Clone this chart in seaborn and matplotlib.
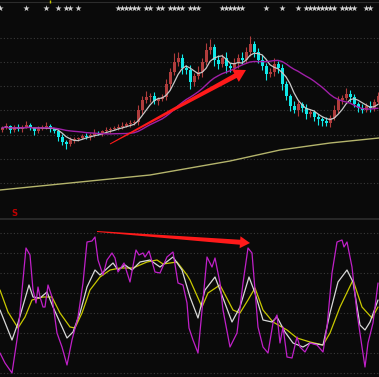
import numpy as np
import pandas as pd
import seaborn as sns
import matplotlib.pyplot as plt
from matplotlib.patches import Polygon

# daily closes (price units), one value per candle
closes = [17.2, 17.4, 17.0, 17.3, 17.1, 17.3, 17.5, 17.2, 16.9, 17.1,
          17.3, 17.4, 17.1, 16.9, 16.3, 15.8, 15.6, 16.0, 16.1, 16.2,
          16.4, 16.3, 16.5, 16.7, 16.6, 16.9, 17.0, 17.1, 17.2, 17.3,
          17.4, 17.6, 17.7, 17.8, 19.0, 20.0, 20.3, 20.4, 19.9, 20.1,
          20.3, 21.6, 22.8, 23.8, 24.2, 23.2, 23.0, 21.8, 22.4, 22.8,
          23.8, 25.0, 25.3, 24.0, 23.6, 24.2, 23.4, 23.2, 23.7, 24.2,
          24.0, 24.8, 25.6, 24.8, 24.0, 23.4, 22.6, 22.8, 23.6, 23.2,
          21.6, 20.4, 19.4, 19.0, 19.6, 19.2, 18.6, 18.8, 18.3, 18.1,
          17.9, 17.7, 18.2, 19.0, 20.0, 20.2, 20.6, 20.3, 19.6, 19.2,
          19.0, 19.4, 19.2, 19.8, 20.4]
opens = [17.0] + closes[:-1]
up_wick = [0.2, 0.3, 0.1, 0.2, 0.3, 0.2, 0.4, 0.2, 0.1, 0.3,
           0.2, 0.4, 0.2, 0.1, 0.2, 0.3, 0.2, 0.3, 0.2, 0.1,
           0.2, 0.3, 0.2, 0.4, 0.2, 0.1, 0.3, 0.2, 0.2, 0.3,
           0.4, 0.2, 0.3, 0.2, 0.5, 0.4, 0.6, 0.3, 0.4, 0.2,
           0.3, 0.5, 0.4, 0.9, 0.6, 0.4, 0.3, 0.5, 0.3, 0.6,
           0.4, 0.7, 0.8, 0.3, 0.5, 0.4, 0.6, 0.3, 0.5, 0.4,
           0.6, 0.5, 0.8, 0.3, 0.4, 0.5, 0.3, 0.4, 0.6, 0.3,
           0.4, 0.3, 0.2, 0.5, 0.3, 0.2, 0.4, 0.3, 0.2, 0.3,
           0.2, 0.4, 0.3, 0.5, 0.4, 0.3, 0.6, 0.4, 0.3, 0.2,
           0.4, 0.3, 0.5, 0.3, 0.4]
low_wick = [0.2, 0.1, 0.3, 0.2, 0.2, 0.3, 0.1, 0.2, 0.4, 0.2,
            0.1, 0.2, 0.3, 0.2, 0.4, 0.3, 0.5, 0.2, 0.3, 0.2,
            0.1, 0.2, 0.3, 0.2, 0.1, 0.2, 0.2, 0.3, 0.1, 0.2,
            0.2, 0.1, 0.3, 0.2, 0.3, 0.4, 0.3, 0.5, 0.3, 0.4,
            0.2, 0.3, 0.5, 0.3, 0.4, 0.6, 0.4, 0.7, 0.4, 0.3,
            0.5, 0.3, 0.4, 0.6, 0.5, 0.3, 0.7, 0.4, 0.3, 0.5,
            0.4, 0.3, 0.4, 0.5, 0.3, 0.4, 0.6, 0.3, 0.4, 0.5,
            0.6, 0.4, 0.5, 0.3, 0.6, 0.4, 0.5, 0.3, 0.4, 0.6,
            0.5, 0.3, 0.4, 0.2, 0.3, 0.4, 0.2, 0.5, 0.3, 0.4,
            0.3, 0.2, 0.4, 0.3, 0.2]

# long moving average
long_ma_days = [-0.5, 12, 24.5, 37, 47, 57, 69.5, 82, 94.25]
long_ma = [11.0, 11.5, 12.0, 12.5, 13.2, 13.9, 15.0, 15.7, 16.2]

# signal markers along the top
star_days = [-0.5, 6, 11, 14, 16, 17, 19, 29, 30, 31, 32, 33, 34, 36, 37, 39, 40,
             42, 43, 44, 45, 47, 48, 49, 55, 56, 57, 58, 59, 60, 66, 70, 74, 76,
             77, 78, 79, 80, 81, 82, 83, 85, 86, 87, 88, 91, 92]

# KDJ indicator
j_days = [-0.5, 0.75, 2.5, 4, 6, 7, 7.75, 8.5, 9, 9.5, 10.25, 10.75, 11.5, 12.5,
          13.75, 15, 16.25, 17.5, 19, 20.25, 21.25, 22.5, 23.25, 24, 25.25, 26.25,
          27.5, 28.25, 29, 30.5, 32, 33.5, 34.25, 35.25, 35.75, 36.75, 38.25, 39.5,
          41.25, 42.75, 44, 45.25, 46.25, 46.75, 47.75, 49, 50.25, 51.25, 52.5,
          53.25, 54.5, 55.25, 57, 58.75, 60.25, 61.5, 62.5, 63.25, 64, 65.25, 66.5,
          67.75, 68.75, 69.5, 70.25, 71.25, 72.5, 73.75, 74.5, 75.75, 77, 78.75,
          80.25, 81.25, 82.5, 83.75, 85, 85.5, 86.25, 87.5, 88.75, 90, 90.75, 91.5,
          92.75, 94]
j_vals = [0, -10, -20, 20, 105, 98, 63, 50, 66, 56, 46, 46, 68, 56,
          20, 6, -12, 13, 36, 70, 111, 112, 116, 93, 78, 93,
          100, 95, 81, 90, 71, 103, 98, 100, 96, 102, 81, 80,
          96, 101, 70, 68, 50, 25, 13, 0, 53, 96, 86,
          95, 70, 43, 6, 20, 70, 105, 100, 63, 26, 6, 0,
          30, 38, 10, 26, -4, -5, 16, 6, 1, 10, 8,
          1, 26, 80, 111, 113, 106, 111, 86, 40, 6, -14, 10,
          30, 70]
k_days = [-0.5, 2.5, 4, 6.75, 7.75, 9.5, 11.25, 12.75, 16.25, 17.75, 19.5, 21.25,
          23.25, 24.5, 27.75, 29, 30.75, 32.5, 34.5, 37, 39.5, 42.75, 45, 47, 49,
          50.75, 53.25, 54.5, 57.5, 59.5, 61.75, 63.25, 65.25, 67.5, 68.75, 70.75,
          72.75, 75.25, 77, 80.25, 82, 84, 86.25, 87.75, 89.5, 90.75, 92, 94]
k_vals = [43, 13, 30, 68, 56, 55, 61, 46, 15, 21, 40, 66,
          83, 78, 90, 83, 88, 83, 91, 93, 86, 96, 83, 56, 35,
          63, 76, 63, 31, 46, 76, 60, 33, 31, 36, 21,
          10, 6, 10, 8, 40, 71, 83, 71, 28, 23, 31, 53]
d_days = [-0.5, 1.5, 4, 5.75, 7.5, 10.25, 12.5, 14.5, 17, 18.25, 20, 22, 24.5, 27,
          29.5, 32.75, 36.25, 38.75, 40.25, 43.75, 46.25, 47, 50, 51.5, 54.5,
          57.75, 59.5, 61.5, 63.25, 65.25, 67.75, 71.25, 73.75, 77, 80.25, 82,
          84.5, 87.75, 90, 92.5, 94]
d_vals = [63, 41, 25, 36, 53, 56, 56, 40, 26, 25, 40, 63, 76, 83,
          85, 85, 91, 93, 89, 91, 78, 73, 46, 60, 68,
          43, 40, 53, 65, 43, 31, 23, 15, 11, 8, 20,
          46, 73, 46, 35, 46]

top_grid = [26.2, 23.8, 21.4, 19.0, 16.5, 14.1, 11.7]
kdj_grid = [120, 100, 80, 60, 40, 20, 0, -20]

BG = "#0a0a0a"
W, H = 379, 377

sns.set_theme(style="dark", rc={"axes.facecolor": BG, "figure.facecolor": BG})

fig = plt.figure(figsize=(W / 100, H / 100), dpi=100)
ax = fig.add_axes([0, 1 - 212 / H, 1, 212 / H])
ax2 = fig.add_axes([0, 0, 1, 159 / H])

df = pd.DataFrame({"open": opens, "close": closes, "up": up_wick, "low": low_wick})
df["day"] = np.arange(len(df))
df["hi"] = df[["open", "close"]].max(axis=1) + df["up"]
df["lo"] = df[["open", "close"]].min(axis=1) - df["low"]
df["color"] = np.where(df["close"] >= df["open"], "#b03c3c", "#10e8e8")
df["ma5"] = df["close"].rolling(5, min_periods=1).mean()
df["ma20"] = df["close"].rolling(20, min_periods=1).mean()

for a in (ax, ax2):
    a.set_xlim(-0.5, 94.25)
    a.set_xticks([])
    a.set_yticks([])
    for s in a.spines.values():
        s.set_visible(False)

ax.set_ylim(8.8, 30)
for g in top_grid:
    ax.axhline(g, color="#3a3a3a", lw=0.8, ls=(0, (1, 2)), zorder=0)
ax.axhline(29.85, color="#2c2c2c", lw=0.8, zorder=0)
ax.vlines(12, 29.7, 30, color="#c8c800", lw=1)

# candles
ax.vlines(df["day"], df["lo"], df["hi"], colors=df["color"], lw=0.8, zorder=2)
heights = (df["close"] - df["open"]).abs().clip(lower=0.08)
ax.bar(df["day"], heights, bottom=df[["open", "close"]].min(axis=1),
       width=0.75, color=df["color"], linewidth=0, zorder=3)

sns.lineplot(x=df["day"], y=df["ma5"], ax=ax, color="#c8c8c8", lw=0.9, zorder=4)
sns.lineplot(x=df["day"], y=df["ma20"], ax=ax, color="#a020a8", lw=1.0, zorder=4)
sns.lineplot(x=long_ma_days, y=long_ma, ax=ax, color="#b4b46c", lw=1.0, zorder=4)
ax.scatter(star_days, [29.2] * len(star_days), marker="*", s=22,
           color="#d0d0d0", linewidths=0, zorder=5)
ax.set_xlabel("")
ax.set_ylabel("")

# KDJ panel
ax2.set_ylim(-24, 135)
for g in kdj_grid:
    ax2.axhline(g, color="#3a3a3a", lw=0.8, ls=(0, (1, 2)), zorder=0)
ax2.axhline(134, color="#2e2e2e", lw=1.2, zorder=0)
sns.lineplot(x=d_days, y=d_vals, ax=ax2, color="#c8c800", lw=0.9, zorder=3)
sns.lineplot(x=k_days, y=k_vals, ax=ax2, color="#d8d8d8", lw=0.9, zorder=4)
sns.lineplot(x=j_days, y=j_vals, ax=ax2, color="#c020c8", lw=0.9, zorder=5)
ax2.set_xlabel("")
ax2.set_ylabel("")

fig.text(14 / W, 1 - 213 / H, "S", color="#c00000", fontsize=6,
         ha="center", va="center", fontweight="bold")


def arrow(tail, tip, w0, w1, head_len, head_w):
    t = np.array(tail, float)
    p = np.array(tip, float)
    u = (p - t) / np.linalg.norm(p - t)
    n = np.array([-u[1], u[0]])
    b = p - u * head_len
    pts = [t + n * w0 / 2, b + n * w1 / 2, b + n * head_w / 2, p,
           b - n * head_w / 2, b - n * w1 / 2, t - n * w0 / 2]
    pts = [(x / W, 1 - y / H) for x, y in pts]
    fig.add_artist(Polygon(pts, closed=True, transform=fig.transFigure,
                           facecolor="#ff1a1a", edgecolor="none", zorder=10))


arrow((110, 144), (246, 70), 1, 5, 12, 14)
arrow((97, 231.5), (250, 243), 1, 5, 10, 12)

fig.savefig("out.png", dpi=100, facecolor=BG)
